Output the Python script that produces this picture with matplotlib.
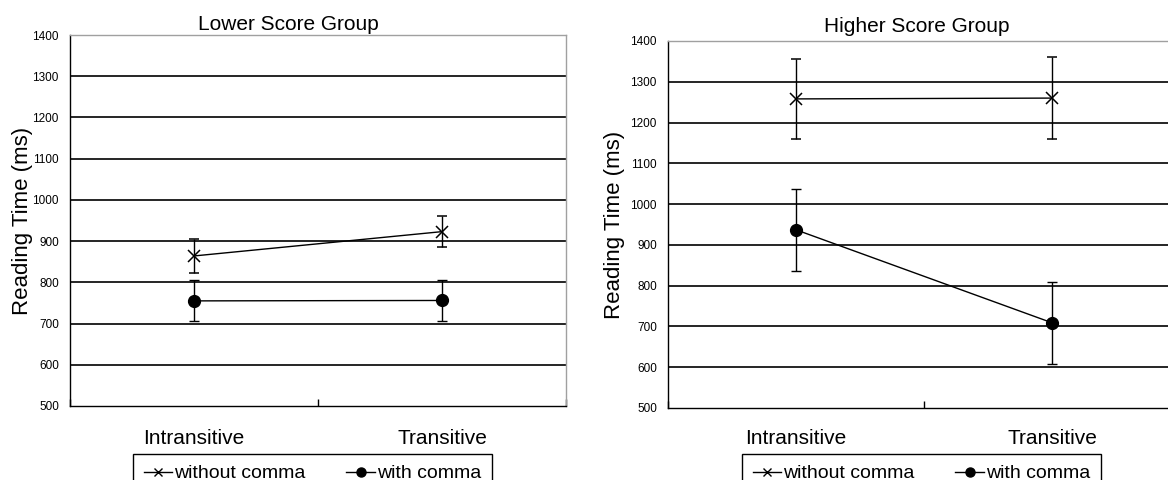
#!/usr/bin/env python
#-*- coding:utf-8 -*-
"""
Reading time by verb type, lower vs higher score group
"""

# =============================================================================
# IMPORTS
# =============================================================================
import numpy as np
import matplotlib
matplotlib.use('Agg')
import matplotlib.pyplot as plt
from matplotlib import transforms
from matplotlib.lines import Line2D

# =============================================================================
# DATA
# =============================================================================
categories = ['Intransitive', 'Transitive']
series_names = ['without comma', 'with comma']

# Lower Score Group
low_without = [864, 923]
low_without_err = [41, 37]
low_with = [755, 756]
low_with_err = [50, 50]

# Higher Score Group
high_without = [1258, 1260]
high_without_err = [99, 100]
high_with = [937, 709]
high_with_err = [100, 100]

yticks = list(range(500, 1401, 100))

# =============================================================================
# CODE
# =============================================================================
plt.rcParams['font.family'] = ['Liberation Sans', 'DejaVu Sans']

W, H = 1168., 480.
f = plt.figure(figsize=(W/100, H/100), dpi=100)

def px_axes(x0, x1, ytop, ybot):
    return [x0/W, 1 - ybot/H, (x1-x0)/W, (ybot-ytop)/H]

def draw_panel(ax, without, without_err, wth, wth_err, ylab_x, legend_box):
    xpos = np.arange(len(categories)) + 0.5
    ax.set_xlim(0, 2)
    ax.set_ylim(500, 1400)

    # grid lines
    for y in yticks[1:-1]:
        ax.axhline(y, color='black', lw=1.2, zorder=1)

    ax.errorbar(xpos, without, yerr=without_err, color='black', lw=1,
                marker='x', ms=8, mew=1.1, capsize=3.5, elinewidth=1,
                capthick=1, zorder=3)
    ax.errorbar(xpos, wth, yerr=wth_err, color='black', lw=1,
                marker='o', ms=8.5, capsize=3.5, elinewidth=1,
                capthick=1, zorder=3)

    ax.set_yticks(yticks)
    ax.tick_params(axis='y', length=0, pad=8, labelsize=8.5)
    ax.set_xticks([0, 1, 2])
    ax.set_xticklabels([])
    ax.tick_params(axis='x', direction='in', length=5, width=1)

    trans = transforms.blended_transform_factory(ax.transData, f.transFigure)
    for xp, lab in zip(xpos, categories):
        ax.text(xp, 1 - 439/H, lab, transform=trans, ha='center', va='center',
                fontsize=15)

    ax.set_ylabel('Reading Time (ms)', fontsize=16)
    ax.yaxis.set_label_coords(ylab_x, 0.5)

    for s in ['top', 'right']:
        ax.spines[s].set_color('#a0a0a0')
        ax.spines[s].set_linewidth(1)
    for s in ['left', 'bottom']:
        ax.spines[s].set_color('black')
        ax.spines[s].set_linewidth(1)

    # legend : plain line + marker, no error bars
    handles = [Line2D([], [], color='black', lw=1, marker='x', ms=6, mew=1),
               Line2D([], [], color='black', lw=1, marker='o', ms=6.5)]
    x0, x1, ytop = legend_box
    leg = ax.legend(handles, series_names, loc='upper center', ncol=2,
                    bbox_to_anchor=((x0+x1)/2/W, 1 - ytop/H),
                    bbox_transform=f.transFigure, borderaxespad=0,
                    fontsize=14, frameon=True, fancybox=False,
                    edgecolor='black', framealpha=1, handlelength=1.45,
                    handletextpad=0.1, columnspacing=2.1, borderpad=0.55)
    leg.get_frame().set_linewidth(1)
    return leg

ax1 = f.add_axes(px_axes(70, 566, 35, 406))
draw_panel(ax1, low_without, low_without_err, low_with, low_with_err,
           -0.075, (133, 492, 454))
f.text(288/W, 1 - 24/H, 'Lower Score Group', ha='center', va='center',
       fontsize=15)

ax2 = f.add_axes(px_axes(668, 1180, 41, 408))
draw_panel(ax2, high_without, high_without_err, high_with, high_with_err,
           -0.084, (743, 1100, 454))
f.text(917/W, 1 - 27/H, 'Higher Score Group', ha='center', va='center',
       fontsize=15)

plt.savefig('out.png', dpi=100)
plt.close()
